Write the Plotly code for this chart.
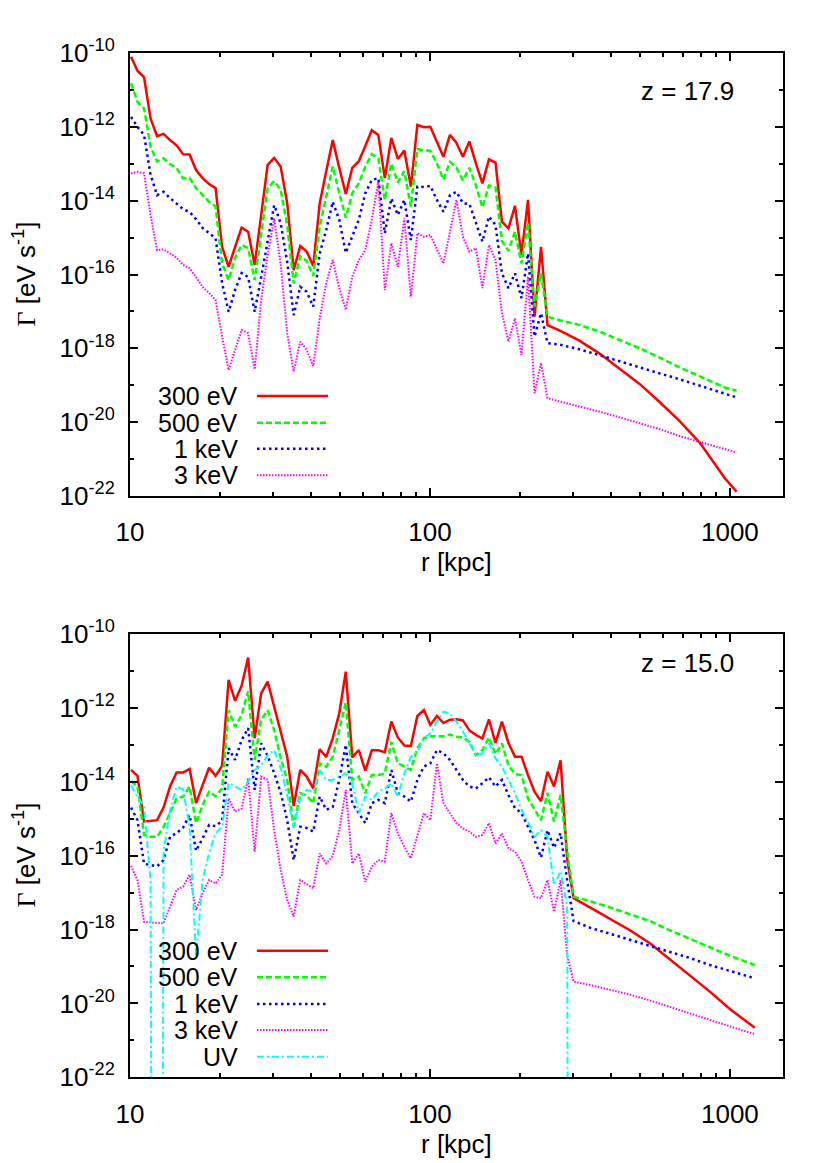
import math
import plotly.graph_objects as go

W, H = 830, 1163          # target picture
OFF = 8                   # default page margin around the plot div
FW, FH = W - OFF, H - OFF  # figure size so the page fits the window

# radial bins [kpc]
r_inner = [10.08, 10.59, 11.14, 11.71, 12.31, 12.94, 13.60, 14.30, 15.03, 15.80,
           16.61, 17.46, 18.35, 19.29, 20.28, 21.32, 22.41, 23.56, 24.77, 26.04,
           27.37, 28.77, 30.25, 31.80, 33.43, 35.14, 36.94, 38.83, 40.82, 42.91,
           45.11, 47.42, 49.85, 52.41, 55.09, 57.92, 60.88, 64.00, 67.28, 70.73,
           74.35, 78.16, 82.16, 86.37, 90.80, 95.45, 100.3, 105.5, 110.9, 116.6,
           122.5, 128.8, 135.4, 142.3, 149.6, 157.3, 165.4, 173.8, 182.7, 192.1,
           201.9, 212.3, 223.2, 234.6, 246.6]
r_top_outer = [271.2, 316.2, 368.8, 429.9, 501.2, 584.3, 681.3, 794.3, 891.3, 962.3, 1053]
r_bot_mid = [259.3, 272.6, 286.6, 301.2]
r_bot_outer = [341.5, 398.1, 464.2, 541.2, 631.0, 735.6, 857.7, 1000, 1122, 1211]

r_top = r_inner + r_top_outer
r_bot = r_inner + r_bot_mid + r_bot_outer
r_uv = r_inner + r_bot_mid

# log10 Gamma [eV s^-1], z = 17.9
top_300ev = [-10.10, -10.48, -10.66, -11.77, -12.25, -12.19, -12.36, -12.50, -12.74, -12.75,
             -13.17, -13.39, -13.55, -13.66, -15.25, -15.79, -15.25, -14.73, -14.84, -15.74,
             -14.39, -13.03, -12.84, -13.08, -14.07, -15.88, -15.23, -15.38, -15.77, -14.07,
             -13.20, -12.36, -13.11, -13.82, -13.11, -12.93, -12.52, -12.09, -12.22, -13.39,
             -12.30, -12.87, -12.64, -13.62, -11.95, -12.01, -12.00, -12.40, -12.81, -12.22,
             -12.43, -12.81, -12.40, -12.99, -13.53, -12.88, -12.97, -14.57, -14.75, -14.14,
             -15.47, -13.98, -17.14, -15.25, -17.37,
             -17.52, -17.80, -18.15, -18.55, -18.97, -19.46, -19.98, -20.56, -21.12, -21.52, -21.88]
top_500ev = [-10.82, -11.32, -11.50, -12.54, -12.94, -12.85, -13.01, -13.12, -13.39, -13.38,
             -13.66, -13.85, -14.03, -14.16, -15.70, -16.15, -15.55, -15.20, -15.29, -16.15,
             -14.88, -13.66, -13.47, -13.71, -14.66, -16.24, -15.50, -15.63, -16.04, -14.70,
             -13.89, -13.07, -13.80, -14.46, -13.80, -13.53, -13.08, -12.74, -12.85, -13.98,
             -12.99, -13.51, -13.20, -14.16, -12.60, -12.64, -12.65, -12.99, -13.43, -12.95,
             -13.10, -13.45, -13.11, -13.58, -14.18, -13.59, -13.64, -15.09, -15.36, -14.84,
             -15.70, -14.59, -16.87, -15.97, -17.14,
             -17.24, -17.37, -17.55, -17.78, -18.00, -18.25, -18.52, -18.76, -18.95, -19.06, -19.15]
top_1kev = [-11.73, -12.00, -12.22, -13.30, -13.85, -13.76, -13.93, -14.09, -14.23, -14.31,
            -14.50, -14.74, -14.88, -15.02, -16.23, -17.01, -16.42, -15.96, -16.07, -17.01,
            -16.07, -15.07, -14.12, -14.61, -15.66, -17.10, -16.33, -16.47, -16.87, -15.43,
            -14.79, -14.03, -14.52, -15.41, -14.98, -14.52, -13.80, -13.44, -13.39, -14.88,
            -13.94, -14.39, -13.98, -15.07, -13.62, -13.63, -13.60, -13.98, -14.30, -13.85,
            -13.76, -14.07, -14.09, -14.61, -15.11, -14.43, -14.66, -15.97, -16.37, -15.97,
            -16.64, -15.43, -17.68, -17.05, -17.86,
            -17.90, -18.03, -18.19, -18.36, -18.52, -18.68, -18.84, -19.01, -19.13, -19.22, -19.33]
top_3kev = [-13.26, -13.22, -13.26, -14.39, -15.34, -15.32, -15.43, -15.55, -15.74, -15.83,
            -16.07, -16.34, -16.50, -16.69, -17.68, -18.59, -18.04, -17.50, -17.59, -18.57,
            -16.69, -15.47, -14.48, -15.74, -17.59, -18.63, -17.82, -18.04, -18.48, -17.18,
            -16.23, -15.61, -16.37, -16.96, -16.06, -15.61, -15.34, -14.52, -13.49, -16.42,
            -15.15, -15.79, -14.48, -16.60, -14.88, -14.98, -14.93, -15.34, -15.70, -14.85,
            -13.98, -14.98, -15.38, -15.29, -16.37, -15.20, -15.61, -17.05, -17.82, -17.19,
            -18.18, -16.06, -19.21, -18.40, -19.35,
            -19.44, -19.57, -19.72, -19.87, -20.02, -20.19, -20.38, -20.53, -20.64, -20.73, -20.82]

# log10 Gamma [eV s^-1], z = 15.0
bot_300ev = [-13.68, -13.84, -15.08, -15.07, -15.04, -14.70, -14.13, -13.75, -13.75, -13.65,
             -14.58, -14.09, -13.62, -13.84, -13.57, -11.24, -11.81, -11.40, -10.64, -12.82,
             -11.61, -11.29, -11.97, -12.64, -13.32, -14.66, -13.68, -13.86, -14.18, -13.12,
             -13.33, -12.82, -12.15, -11.02, -13.34, -13.14, -13.70, -13.15, -13.15, -13.20,
             -12.37, -12.80, -13.02, -13.03, -12.22, -12.06, -12.46, -12.22, -12.41, -12.32,
             -12.31, -12.34, -12.61, -12.73, -12.83, -12.31, -12.95, -12.37, -12.95, -13.32,
             -13.32, -13.82, -14.27, -14.53, -13.73, -14.13, -13.42, -16.07, -17.15,
             -17.40, -17.70, -18.02, -18.37, -18.80, -19.24, -19.68, -20.15, -20.47, -20.66]
bot_500ev = [-13.98, -14.13, -15.44, -15.49, -15.49, -15.22, -14.85, -14.45, -14.40, -14.13,
             -15.12, -14.63, -14.27, -14.39, -14.18, -12.06, -12.51, -12.19, -11.55, -13.41,
             -12.33, -12.06, -12.60, -13.36, -13.95, -15.20, -14.31, -14.37, -14.58, -13.50,
             -13.59, -13.32, -12.60, -11.85, -13.95, -13.86, -14.31, -13.82, -13.82, -13.77,
             -12.92, -13.50, -13.59, -13.68, -13.09, -12.82, -12.77, -12.77, -12.77, -12.72,
             -12.78, -12.80, -12.92, -13.28, -13.14, -12.80, -13.25, -12.96, -13.55, -13.79,
             -13.82, -14.45, -14.76, -15.04, -14.30, -15.08, -14.35, -15.85, -17.11,
             -17.23, -17.40, -17.59, -17.77, -18.02, -18.24, -18.48, -18.71, -18.86, -18.96]
bot_1kev = [-14.70, -15.04, -16.22, -16.25, -16.29, -16.12, -15.49, -15.39, -15.24, -14.90,
            -15.87, -15.53, -15.17, -15.20, -15.06, -13.09, -13.41, -12.87, -12.55, -14.22,
            -12.96, -13.30, -13.76, -14.30, -15.04, -16.12, -15.22, -15.25, -15.35, -14.40,
            -14.76, -14.68, -13.95, -13.00, -14.58, -14.85, -15.12, -14.58, -14.49, -14.58,
            -13.68, -14.31, -14.40, -14.54, -13.95, -13.59, -13.50, -13.14, -13.23, -13.41,
            -13.68, -13.95, -14.13, -14.18, -14.04, -13.88, -14.13, -13.95, -14.36, -14.71,
            -14.85, -15.22, -15.58, -16.05, -15.31, -15.79, -15.39, -16.66, -17.77,
            -17.95, -18.11, -18.27, -18.43, -18.60, -18.77, -18.96, -19.13, -19.24, -19.32]
bot_3kev = [-16.28, -16.66, -17.79, -17.81, -17.83, -17.83, -17.38, -16.93, -16.84, -16.52,
            -17.47, -17.02, -16.66, -16.75, -16.52, -14.45, -14.81, -14.72, -13.91, -15.89,
            -13.86, -13.95, -15.31, -16.39, -17.20, -17.65, -16.66, -16.77, -16.88, -15.94,
            -16.21, -16.01, -15.31, -14.22, -16.21, -15.94, -16.71, -16.30, -16.12, -16.16,
            -14.85, -15.40, -15.76, -16.07, -15.49, -14.85, -15.04, -13.50, -14.58, -14.85,
            -15.12, -15.26, -15.35, -15.49, -15.44, -15.12, -15.67, -15.40, -15.80, -15.89,
            -16.16, -16.66, -17.11, -17.15, -16.66, -17.52, -16.66, -18.69, -19.41,
            -19.50, -19.63, -19.76, -19.92, -20.09, -20.28, -20.45, -20.62, -20.75, -20.83]
# UV drops to (numerically) zero at two radii: plotted as a very small value
bot_uv = [-14.09, -14.41, -14.66, -16.66, -80.0, -15.93, -14.76, -14.14, -14.20, -15.22,
          -18.74, -16.66, -15.93, -15.39, -15.22, -14.04, -14.13, -14.22, -14.00, -13.68,
          -13.55, -13.28, -13.14, -13.63, -14.36, -15.26, -14.40, -14.22, -14.27, -13.68,
          -13.95, -13.95, -13.86, -13.77, -14.04, -14.85, -14.40, -14.49, -14.27, -14.18,
          -14.04, -14.40, -13.77, -13.32, -13.19, -12.82, -12.69, -12.37, -12.10, -12.15,
          -12.37, -12.64, -12.96, -13.28, -13.23, -12.96, -13.37, -13.59, -13.95, -14.31,
          -14.76, -15.08, -15.49, -15.31, -15.49, -16.80, -16.42, -17.34, -80.0]

labels = ["300 eV", "500 eV", "1 keV", "3 keV", "UV"]
styles = {
    "300 eV": dict(color="#ff0000", width=2.5, dash="solid"),
    "500 eV": dict(color="#00ff00", width=2.5, dash="6px,3px"),
    "1 keV": dict(color="#0000ff", width=2.5, dash="2.5px,3.5px"),
    "3 keV": dict(color="#ff00ff", width=2, dash="1.5px,1.5px"),
    "UV": dict(color="#00ffff", width=2, dash="7px,3px,2px,3px"),
}

FONT = "Liberation Sans, Arial, Helvetica, sans-serif"


def px(x, y):
    # window pixel -> paper fraction
    return (x - OFF) / FW, 1 - (y - OFF) / FH


fig = go.Figure()

top = [("300 eV", top_300ev), ("500 eV", top_500ev), ("1 keV", top_1kev), ("3 keV", top_3kev)]
bot = [("300 eV", bot_300ev), ("500 eV", bot_500ev), ("1 keV", bot_1kev), ("3 keV", bot_3kev)]

for name, vals in top:
    fig.add_trace(go.Scatter(x=r_top, y=[10 ** v for v in vals], mode="lines", name=name,
                             line=styles[name], showlegend=False, xaxis="x", yaxis="y"))
for name, vals in bot:
    fig.add_trace(go.Scatter(x=r_bot, y=[10 ** v for v in vals], mode="lines", name=name,
                             line=styles[name], showlegend=False, xaxis="x2", yaxis="y2"))
fig.add_trace(go.Scatter(x=r_uv, y=[10 ** v for v in bot_uv], mode="lines", name="UV",
                         line=styles["UV"], showlegend=False, xaxis="x2", yaxis="y2"))

x_major = [10, 100, 1000]
x_minor = [20, 30, 40, 50, 60, 70, 80, 90, 200, 300, 400, 500, 600, 700, 800, 900]
y_major = [10 ** -p for p in (10, 12, 14, 16, 18, 20, 22)]
y_major_text = ["10<sup>-%d</sup>" % p for p in (10, 12, 14, 16, 18, 20, 22)]
y_minor = [10 ** -p for p in (11, 13, 15, 17, 19, 21)]

x0 = px(130, 0)[0]
x1 = px(782.7, 0)[0]
top_dom = [px(0, 496)[1], px(0, 53)[1]]
bot_dom = [px(0, 1077.3)[1], px(0, 634)[1]]


def xaxis(anchor):
    return dict(type="log", range=[1, math.log10(1500)], domain=[x0, x1], anchor=anchor,
                tickmode="array", tickvals=x_major, ticktext=["10", "100", "1000"],
                ticks="inside", ticklen=8, tickwidth=1.5, tickcolor="black",
                showline=True, linewidth=2, linecolor="black", mirror="ticks",
                showgrid=False, zeroline=False, automargin=False, ticklabelstandoff=12,
                tickfont=dict(size=26, color="black", family=FONT),
                minor=dict(tickmode="array", tickvals=x_minor, ticks="inside", ticklen=4,
                           tickwidth=1.5, tickcolor="black", showgrid=False))


def yaxis(anchor, dom):
    return dict(type="log", range=[-22, -10], domain=dom, anchor=anchor,
                tickmode="array", tickvals=y_major, ticktext=y_major_text,
                ticks="inside", ticklen=8, tickwidth=1.5, tickcolor="black",
                showline=True, linewidth=2, linecolor="black", mirror="ticks",
                showgrid=False, zeroline=False, automargin=False, ticklabelstandoff=8,
                tickfont=dict(size=26, color="black", family=FONT),
                minor=dict(tickmode="array", tickvals=y_minor, ticks="inside", ticklen=4,
                           tickwidth=1.5, tickcolor="black", showgrid=False))


annotations = []
shapes = []


def text(x, y, s, anchor="center", angle=0, size=26):
    ax, ay = px(x, y)
    annotations.append(dict(x=ax, y=ay, xref="paper", yref="paper", text=s, showarrow=False,
                            xanchor=anchor, yanchor="middle", textangle=angle,
                            font=dict(size=size, color="black", family=FONT)))


ytitle = "<span style='font-family:Liberation Serif'>Γ</span> [eV s<sup>-1</sup>]"
text(25, 274.5, ytitle, angle=-90)
text(25, 855.5, ytitle, angle=-90)
text(456, 562, "r [kpc]")
text(456, 1144, "r [kpc]")
text(687, 91, "z = 17.9")
text(687, 662.5, "z = 15.0")

# key, gnuplot style: label right-aligned, sample line to the right
for rows, names in (([396, 422.7, 448.7, 475.3], labels[:4]),
                    ([950.7, 977.3, 1004, 1030, 1056.7], labels)):
    for yy, name in zip(rows, names):
        text(240, yy, name, anchor="right", size=25)
        ax0, ay = px(257, yy)
        ax1, _ = px(328, yy)
        shapes.append(dict(type="line", xref="paper", yref="paper", x0=ax0, x1=ax1, y0=ay, y1=ay,
                           line=styles[name]))

fig.update_layout(
    template="none",
    width=FW, height=FH,
    margin=dict(l=0, r=0, t=0, b=0, pad=0, autoexpand=False),
    plot_bgcolor="#ffffff",
    paper_bgcolor="#ffffff",
    font=dict(family=FONT, size=26, color="black"),
    xaxis=xaxis("y"), yaxis=yaxis("x", top_dom),
    xaxis2=xaxis("y2"), yaxis2=yaxis("x2", bot_dom),
    annotations=annotations,
    shapes=shapes,
    showlegend=False,
)

fig.write_html("out.html")
